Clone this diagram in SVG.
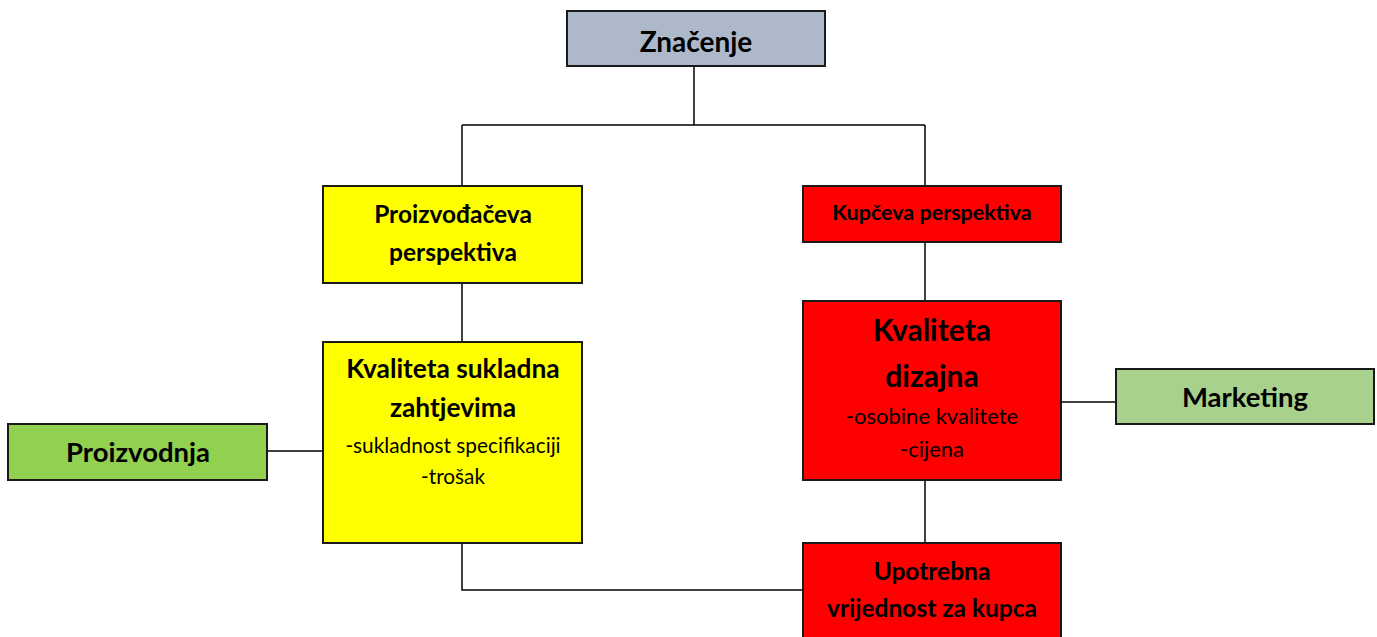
<svg xmlns="http://www.w3.org/2000/svg" width="1377" height="637" viewBox="0 0 1377 637">
<style>
.box{stroke:#1a1a1a;stroke-width:2}
.t{font-family:Lato,"Open Sans","Liberation Sans",sans-serif;font-weight:bold;fill:#000;text-anchor:middle}
.r{font-family:Lato,"Open Sans","Liberation Sans",sans-serif;fill:#000;text-anchor:middle}
.c{stroke:#000;stroke-width:1.5;fill:none}
</style>
<rect width="1377" height="637" fill="#fff"/>
<g id="connectors">
<path class="c" d="M694 66V125M462 125H925M462 125V186M925 125V186"/>
<path class="c" d="M462 283V342"/>
<path class="c" d="M267 451H323"/>
<path class="c" d="M925 242V301"/>
<path class="c" d="M1061 402H1116"/>
<path class="c" d="M925 480V543"/>
<path class="c" d="M462 543V590H803"/>
</g>
<g id="znacenje">
<rect class="box" x="567" y="11" width="258" height="55" fill="#adb9ca"/>
<text class="t" x="696" y="52" font-size="28">Značenje</text>
</g>
<g id="proizvodjaceva">
<rect class="box" x="323" y="186" width="259" height="97" fill="#ffff00"/>
<text class="t" x="453" y="223" font-size="24.5">Proizvođačeva</text>
<text class="t" x="453" y="261" font-size="24.5">perspektiva</text>
</g>
<g id="kvaliteta-sukladna">
<rect class="box" x="323" y="342" width="259" height="201" fill="#ffff00"/>
<text class="t" x="453" y="378" font-size="26.3">Kvaliteta sukladna</text>
<text class="t" x="453" y="417" font-size="26.3">zahtjevima</text>
<text class="r" x="453" y="453" font-size="20.8">-sukladnost specifikaciji</text>
<text class="r" x="453" y="484" font-size="20.8">-trošak</text>
</g>
<g id="proizvodnja">
<rect class="box" x="8" y="424" width="259" height="56" fill="#92d050"/>
<text class="t" x="138" y="462" font-size="27.5">Proizvodnja</text>
</g>
<g id="kupceva">
<rect class="box" x="803" y="186" width="258" height="56" fill="#ff0000"/>
<text class="t" x="932" y="220" font-size="21.5">Kupčeva perspektiva</text>
</g>
<g id="kvaliteta-dizajna">
<rect class="box" x="803" y="301" width="258" height="179" fill="#ff0000"/>
<text class="t" x="932" y="341" font-size="30">Kvaliteta</text>
<text class="t" x="932" y="387" font-size="30">dizajna</text>
<text class="r" x="932" y="424" font-size="22">-osobine kvalitete</text>
<text class="r" x="932" y="457" font-size="22">-cijena</text>
</g>
<g id="marketing">
<rect class="box" x="1116" y="369" width="258" height="55" fill="#a9d18e"/>
<text class="t" x="1245" y="407" font-size="27.5">Marketing</text>
</g>
<g id="upotrebna">
<rect class="box" x="803" y="543" width="258" height="100" fill="#ff0000"/>
<text class="t" x="932" y="580" font-size="24.5">Upotrebna</text>
<text class="t" x="932" y="617" font-size="24.5">vrijednost za kupca</text>
</g>
</svg>
